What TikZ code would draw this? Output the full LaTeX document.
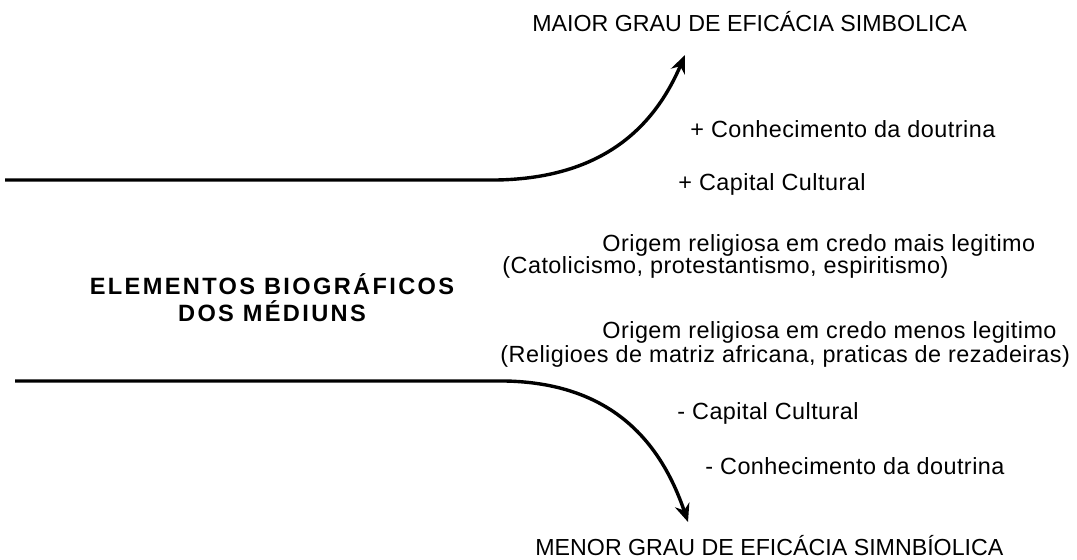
\documentclass[tikz,border=0pt]{standalone}
\usepackage{fontspec}
\setmainfont{Liberation Sans}
\newfontfamily\textospaced[LetterSpace=2]{Liberation Sans}
\newfontfamily\titulospaced[LetterSpace=10]{Liberation Sans}
\usetikzlibrary{arrows.meta}

\tikzset{
    txt/.style={
        inner sep=0pt,
        anchor=west,
        font=\textospaced\fontsize{11.7}{14}\selectfont
    },
    cabec/.style={
        inner sep=0pt,
        anchor=west,
        font=\fontsize{11.6}{14}\selectfont
    },
    bigtxt/.style={
        inner sep=0pt,
        align=center,
        font=\titulospaced\fontsize{11.8}{13.5}\selectfont\bfseries
    },
    flow/.style={
        line width=1.7pt,
        -{Stealth[length=9pt,width=7.5pt]}
    }
}

\begin{document}
\begin{tikzpicture}[x=0.5pt,y=-0.5pt]
            \useasboundingbox (0,0) rectangle (1077,560);

            \node[cabec] (maior) at (532,22) {MAIOR GRAU DE EFICÁCIA SIMBOLICA};
            \node[txt] (maisconhec) at (690,129) {+ Conhecimento da doutrina};
            \node[txt] (maiscapital) at (678,184) {+ Capital Cultural};
            \node[txt] (origmais) at (602,245) {Origem religiosa em credo mais legitimo};
            \node[txt] (credomais) at (502,267) {(Catolicismo, protestantismo, espiritismo)};
            \node[bigtxt] (elementos) at (272,298) {ELEMENTOS BIOGRÁFICOS\\DOS MÉDIUNS};
            \node[txt] (origmenos) at (602,332) {Origem religiosa em credo menos legitimo};
            \node[txt] (credomenos) at (500,356) {(Religioes de matriz africana, praticas de rezadeiras)};
            \node[txt] (menoscapital) at (677,413) {- Capital Cultural};
            \node[txt] (menosconhec) at (705,466) {- Conhecimento da doutrina};
            \node[cabec] (menor) at (535,546) {MENOR GRAU DE EFICÁCIA SIMNBÍOLICA};

            \coordinate (altoini) at (5,180);
            \coordinate (altodobra) at (497,180);
            \coordinate (altofim) at (685,55);
            \coordinate (baixoini) at (15,381);
            \coordinate (baixodobra) at (505,381);
            \coordinate (baixofim) at (688,522);

            \draw[flow] (altoini) -- (altodobra) .. controls (605,178) and (655,125) .. (altofim);
            \draw[flow] (baixoini) -- (baixodobra) .. controls (610,383) and (660,440) .. (baixofim);
        \end{tikzpicture}
\end{document}
